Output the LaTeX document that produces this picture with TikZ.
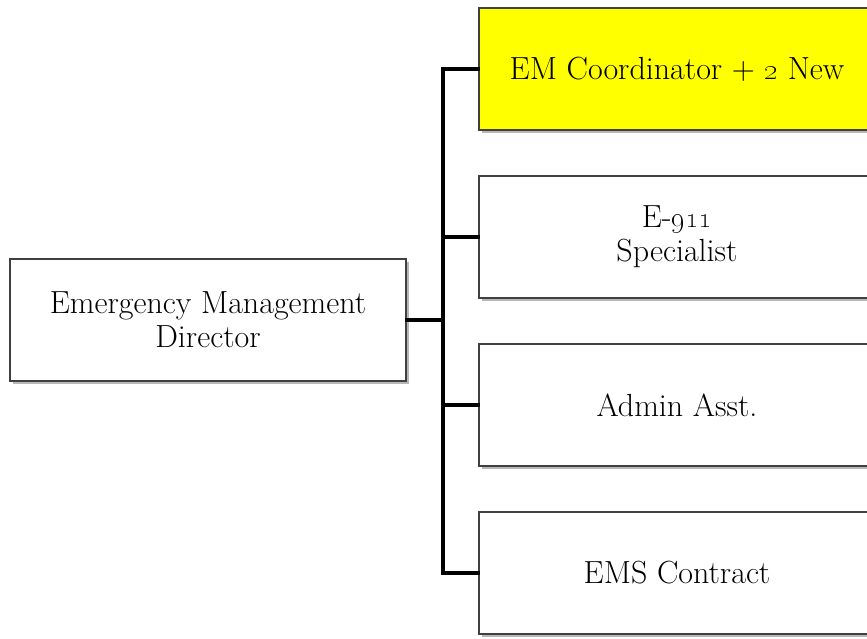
\documentclass[tikz,border=0pt]{standalone}
\usetikzlibrary{shadows}
\definecolor{yel}{RGB}{255,255,0}
\begin{document}
\begin{tikzpicture}[x=1pt,y=-1pt,
  box/.style={draw=black!75, line width=1.6pt, fill=white,
    minimum width=396pt, minimum height=122pt, inner sep=0pt,
    align=center, font=\fontsize{32}{34}\selectfont,
    drop shadow={shadow xshift=2.5pt, shadow yshift=-3pt, opacity=0.4, fill=black!70}},
  conn/.style={line width=4pt, line join=miter, line cap=rect}]
\useasboundingbox (0,0) rectangle (867,638);
\clip (0,0) rectangle (867,638);
\node[box] (dir) at (208,320) {Emergency Management\\Director};
\node[box, fill=yel] (c1) at (677,69) {EM Coordinator + \oldstylenums{2} New};
\node[box] (c2) at (677,237) {E-\oldstylenums{911}\\Specialist};
\node[box] (c3) at (677,405) {Admin Asst.};
\node[box] (c4) at (677,573) {EMS Contract};
\coordinate (j) at (443,320);
\coordinate (t1) at (443,69);
\coordinate (t2) at (443,237);
\coordinate (t3) at (443,405);
\coordinate (t4) at (443,573);
\draw[conn] (c1.west) -- (t1) -- (t4) -- (c4.west);
\draw[conn] (c2.west) -- (t2);
\draw[conn] (c3.west) -- (t3);
\draw[conn] (dir.east) -- (j);
\end{tikzpicture}
\end{document}
